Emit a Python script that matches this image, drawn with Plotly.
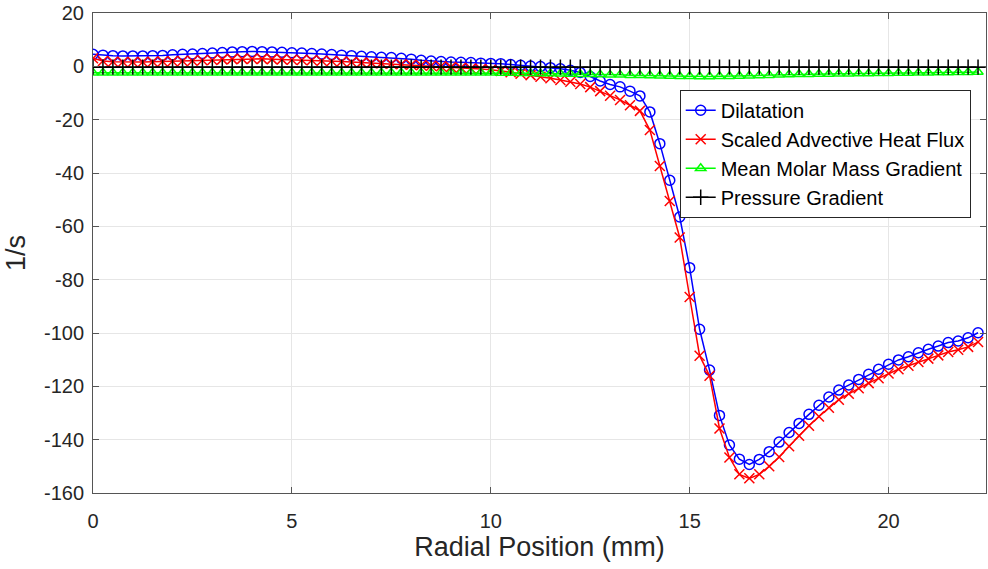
import plotly.graph_objects as go

x_mm = [0.0, 0.25, 0.5, 0.75, 1.0, 1.25, 1.5, 1.75, 2.0, 2.25, 2.5, 2.75, 3.0, 3.25, 3.5, 3.75,
        4.0, 4.25, 4.5, 4.75, 5.0, 5.25, 5.5, 5.75, 6.0, 6.25, 6.5, 6.75, 7.0, 7.25, 7.5, 7.75,
        8.0, 8.25, 8.5, 8.75, 9.0, 9.25, 9.5, 9.75, 10.0, 10.25, 10.5, 10.75, 11.0, 11.25, 11.5, 11.75,
        12.0, 12.25, 12.5, 12.75, 13.0, 13.25, 13.5, 13.75, 14.0, 14.25, 14.5, 14.75, 15.0, 15.25, 15.5, 15.75,
        16.0, 16.25, 16.5, 16.75, 17.0, 17.25, 17.5, 17.75, 18.0, 18.25, 18.5, 18.75, 19.0, 19.25, 19.5, 19.75,
        20.0, 20.25, 20.5, 20.75, 21.0, 21.25, 21.5, 21.75, 22.0, 22.25]

dilatation = [4.5, 4.2, 4.0, 3.9, 3.9, 3.9, 4.0, 4.1, 4.3, 4.5, 4.6, 4.8, 5.0, 5.2, 5.4, 5.5,
              5.6, 5.5, 5.4, 5.3, 5.1, 5.0, 4.8, 4.6, 4.4, 4.2, 4.0, 3.8, 3.6, 3.4, 3.3, 3.0,
              2.7, 2.3, 2.0, 1.8, 1.6, 1.5, 1.4, 1.2, 1.1, 1.0, 0.7, 0.4, 0.1, -0.1, -0.5, -0.9,
              -1.5, -2.3, -3.8, -5.5, -6.8, -7.7, -9.3, -11.1, -17.1, -29.0, -42.7, -56.5, -75.5, -98.6, -113.9, -130.9,
              -142.0, -147.3, -149.3, -147.4, -144.5, -140.9, -137.3, -133.9, -130.5, -127.1, -124.0, -121.4, -119.5, -117.4, -115.5, -113.6,
              -111.7, -110.1, -108.9, -107.4, -106.1, -104.9, -103.6, -103.0, -101.8, -99.9]

advective = [3.0, 2.0, 1.7, 1.6, 1.6, 1.6, 1.7, 1.8, 1.9, 2.0, 2.1, 2.3, 2.4, 2.6, 2.7, 2.8,
             2.8, 2.8, 2.7, 2.6, 2.5, 2.4, 2.3, 2.1, 2.0, 1.8, 1.6, 1.4, 1.3, 1.1, 1.0, 0.8,
             0.6, 0.4, 0.2, 0.0, -0.3, -0.5, -0.8, -1.0, -1.3, -1.7, -2.2, -2.8, -3.3, -3.9, -4.5, -5.1,
             -5.8, -6.6, -7.8, -9.3, -11.0, -12.6, -14.6, -16.7, -23.9, -37.4, -50.5, -64.2, -86.5, -108.5, -116.0, -135.8,
             -146.7, -153.0, -154.5, -153.0, -150.0, -146.5, -142.5, -138.5, -134.8, -131.3, -128.0, -125.0, -122.8, -120.7, -118.8, -117.0,
             -115.2, -113.6, -112.3, -110.9, -109.6, -108.4, -107.1, -106.3, -105.2, -103.4]

molar_mass = [-2.4, -2.4, -2.4, -2.4, -2.4, -2.4, -2.4, -2.4, -2.4, -2.4, -2.4, -2.4, -2.4, -2.4, -2.4, -2.4,
              -2.4, -2.4, -2.4, -2.4, -2.4, -2.4, -2.4, -2.4, -2.4, -2.4, -2.4, -2.4, -2.4, -2.4, -2.4, -2.4,
              -2.4, -2.4, -2.4, -2.4, -2.4, -2.4, -2.4, -2.4, -2.4, -2.5, -2.5, -2.6, -2.6, -2.7, -2.7, -2.8,
              -2.9, -3.0, -3.0, -3.1, -3.2, -3.2, -3.3, -3.3, -3.4, -3.5, -3.6, -3.7, -3.7, -3.8, -3.8, -3.7,
              -3.7, -3.6, -3.5, -3.4, -3.3, -3.2, -3.1, -3.0, -3.0, -2.9, -2.9, -2.8, -2.8, -2.7, -2.7, -2.6,
              -2.6, -2.5, -2.5, -2.4, -2.4, -2.3, -2.3, -2.2, -2.2, -2.1]

pressure = [-0.3, -0.3, -0.3, -0.3, -0.3, -0.3, -0.3, -0.3, -0.3, -0.3, -0.3, -0.3, -0.3, -0.3, -0.3, -0.3,
            -0.3, -0.3, -0.3, -0.3, -0.3, -0.3, -0.3, -0.3, -0.3, -0.3, -0.3, -0.3, -0.3, -0.3, -0.3, -0.3,
            -0.3, -0.3, -0.3, -0.3, -0.3, -0.3, -0.3, -0.3, -0.3, -0.3, -0.3, -0.3, -0.3, -0.3, -0.3, -0.3,
            -0.3, -0.3, -0.3, -0.3, -0.3, -0.3, -0.3, -0.3, -0.3, -0.3, -0.3, -0.3, -0.3, -0.3, -0.3, -0.3,
            -0.3, -0.3, -0.3, -0.3, -0.3, -0.3, -0.3, -0.3, -0.3, -0.3, -0.3, -0.3, -0.3, -0.3, -0.3, -0.3,
            -0.3, -0.3, -0.3, -0.3, -0.3, -0.3, -0.3, -0.3, -0.3, -0.3]

x_ticks = [0, 5, 10, 15, 20]
y_ticks = [-160, -140, -120, -100, -80, -60, -40, -20, 0, 20]

series = [
    ("Dilatation", dilatation, "#0000FF", "circle-open", 10),
    ("Scaled Advective Heat Flux", advective, "#FF0000", "x-thin-open", 10),
    ("Mean Molar Mass Gradient", molar_mass, "#00FF00", "triangle-up-open", 9),
    ("Pressure Gradient", pressure, "#000000", "cross-thin-open", 11),
]

FONT = "Liberation Sans, Arial, sans-serif"

fig = go.Figure()
for name, vals, color, sym, size in series:
    fig.add_trace(go.Scatter(
        x=x_mm, y=vals, name=name, mode="lines+markers",
        line=dict(color=color, width=1.5),
        marker=dict(symbol=sym, size=size, color=color, line=dict(color=color, width=1.5)),
        legendgroup=name,
    ))

axis_common = dict(
    showgrid=True, gridcolor="#e6e6e6", gridwidth=1,
    showline=True, linecolor="#555555", linewidth=1, mirror="ticks",
    ticks="inside", ticklen=6, tickcolor="#555555",
    zeroline=False, automargin=False,
    tickfont=dict(family=FONT, size=20, color="#262626"),
)

fig.update_xaxes(range=[0, 22.45], tickvals=x_ticks, ticktext=[str(v) for v in x_ticks],
                 title=dict(text="Radial Position (mm)", font=dict(family=FONT, size=27, color="#262626"), standoff=2),
                 ticklabelstandoff=10, **axis_common)
fig.update_yaxes(range=[-160, 20], tickvals=y_ticks, ticktext=[str(v) for v in y_ticks],
                 title=dict(text="1/s", font=dict(family=FONT, size=27, color="#262626"), standoff=10),
                 ticklabelstandoff=4, **axis_common)

fig.update_layout(
    width=988, height=569,
    margin=dict(l=93, r=2, t=13, b=76),
    paper_bgcolor="white", plot_bgcolor="white",
    font=dict(family=FONT, color="#262626"),
    showlegend=True,
    legend=dict(x=0.657, y=0.84, xanchor="left", yanchor="top",
                bgcolor="white", bordercolor="#262626", borderwidth=1,
                font=dict(family=FONT, size=20, color="#000000"),
                tracegroupgap=0, itemwidth=30),
)

fig.write_html("out.html", config={"displayModeBar": False},
               post_script="document.body.style.margin='0';document.body.style.overflow='hidden';")
